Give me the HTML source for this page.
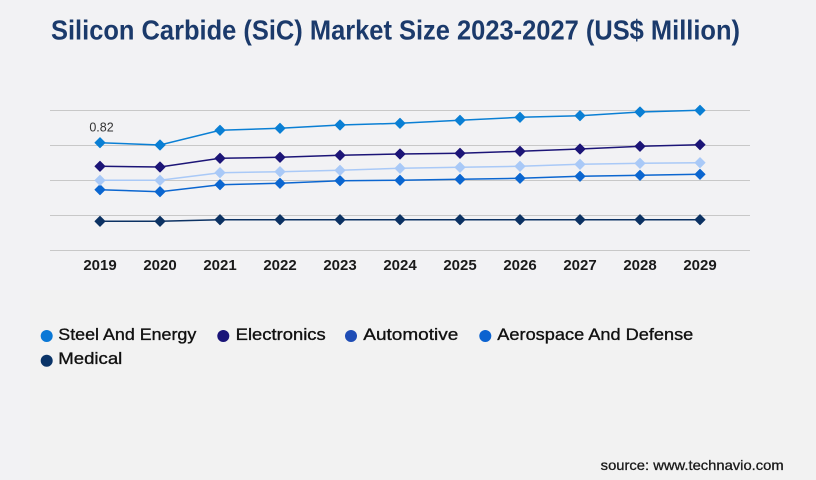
<!DOCTYPE html>
<html>
<head>
<meta charset="utf-8">
<style>
  html,body{margin:0;padding:0;background:#f2f2f4;}
  svg{display:block;}
  text{font-family:"Liberation Sans",Arial,sans-serif;}
</style>
</head>
<body>
<svg width="816" height="480" viewBox="0 0 816 480" xmlns="http://www.w3.org/2000/svg">
  <rect x="0" y="0" width="816" height="480" fill="#f2f2f4"/>
  <rect x="30" y="290" width="786" height="190" fill="#f2f2f2"/>

  <!-- Title -->
  <text x="51" y="39.5" font-size="28" font-weight="bold" fill="#1b3a6b" textLength="689" lengthAdjust="spacingAndGlyphs">Silicon Carbide (SiC) Market Size 2023-2027 (US$ Million)</text>

  <!-- Gridlines -->
  <g stroke="#c8c8c8" stroke-width="1">
    <line x1="50" y1="110.5" x2="750" y2="110.5"/>
    <line x1="50" y1="145.5" x2="750" y2="145.5"/>
    <line x1="50" y1="180.5" x2="750" y2="180.5"/>
    <line x1="50" y1="215.5" x2="750" y2="215.5"/>
    <line x1="50" y1="250.5" x2="750" y2="250.5"/>
  </g>

  <!-- Medical -->
  <polyline fill="none" stroke="#0c3263" stroke-width="1.5" points="100,221.3 160,221.3 220,219.7 280,219.7 340,219.7 400,219.7 460,219.7 520,219.7 580,219.7 640,219.7 700,219.7"/>
  <path fill="#0c3263" stroke="#0c3263" stroke-width="1" stroke-linejoin="round" d="M100 216.3l5 5-5 5-5-5zM160 216.3l5 5-5 5-5-5zM220 214.7l5 5-5 5-5-5zM280 214.7l5 5-5 5-5-5zM340 214.7l5 5-5 5-5-5zM400 214.7l5 5-5 5-5-5zM460 214.7l5 5-5 5-5-5zM520 214.7l5 5-5 5-5-5zM580 214.7l5 5-5 5-5-5zM640 214.7l5 5-5 5-5-5zM700 214.7l5 5-5 5-5-5z"/>

  <!-- Aerospace -->
  <polyline fill="none" stroke="#0b66d0" stroke-width="1.5" points="100,189.7 160,191.7 220,184.7 280,183.3 340,180.7 400,180.3 460,179.3 520,178.3 580,176.3 640,175.3 700,174.3"/>
  <path fill="#0b66d0" stroke="#0b66d0" stroke-width="1" stroke-linejoin="round" d="M100 184.7l5 5-5 5-5-5zM160 186.7l5 5-5 5-5-5zM220 179.7l5 5-5 5-5-5zM280 178.3l5 5-5 5-5-5zM340 175.7l5 5-5 5-5-5zM400 175.3l5 5-5 5-5-5zM460 174.3l5 5-5 5-5-5zM520 173.3l5 5-5 5-5-5zM580 171.3l5 5-5 5-5-5zM640 170.3l5 5-5 5-5-5zM700 169.3l5 5-5 5-5-5z"/>

  <!-- Light blue -->
  <polyline fill="none" stroke="#a9c9f7" stroke-width="1.5" points="100,180.3 160,180.3 220,172.7 280,171.7 340,170.3 400,168.3 460,167.3 520,166.3 580,164.3 640,163.3 700,162.7"/>
  <path fill="#a9c9f7" stroke="#a9c9f7" stroke-width="1" stroke-linejoin="round" d="M100 175.3l5 5-5 5-5-5zM160 175.3l5 5-5 5-5-5zM220 167.7l5 5-5 5-5-5zM280 166.7l5 5-5 5-5-5zM340 165.3l5 5-5 5-5-5zM400 163.3l5 5-5 5-5-5zM460 162.3l5 5-5 5-5-5zM520 161.3l5 5-5 5-5-5zM580 159.3l5 5-5 5-5-5zM640 158.3l5 5-5 5-5-5zM700 157.7l5 5-5 5-5-5z"/>

  <!-- Electronics -->
  <polyline fill="none" stroke="#1c1577" stroke-width="1.5" points="100,166.3 160,167 220,158.3 280,157.3 340,155.3 400,154 460,153.3 520,151.3 580,149 640,146.3 700,144.7"/>
  <path fill="#1c1577" stroke="#1c1577" stroke-width="1" stroke-linejoin="round" d="M100 161.3l5 5-5 5-5-5zM160 162l5 5-5 5-5-5zM220 153.3l5 5-5 5-5-5zM280 152.3l5 5-5 5-5-5zM340 150.3l5 5-5 5-5-5zM400 149l5 5-5 5-5-5zM460 148.3l5 5-5 5-5-5zM520 146.3l5 5-5 5-5-5zM580 144l5 5-5 5-5-5zM640 141.3l5 5-5 5-5-5zM700 139.7l5 5-5 5-5-5z"/>

  <!-- Steel And Energy -->
  <polyline fill="none" stroke="#0a7fd4" stroke-width="1.5" points="100,142.7 160,145 220,130.3 280,128.3 340,125 400,123.3 460,120.3 520,117.3 580,115.7 640,112 700,110.3"/>
  <path fill="#0a7fd4" stroke="#0a7fd4" stroke-width="1" stroke-linejoin="round" d="M100 137.7l5 5-5 5-5-5zM160 140l5 5-5 5-5-5zM220 125.3l5 5-5 5-5-5zM280 123.3l5 5-5 5-5-5zM340 120l5 5-5 5-5-5zM400 118.3l5 5-5 5-5-5zM460 115.3l5 5-5 5-5-5zM520 112.3l5 5-5 5-5-5zM580 110.7l5 5-5 5-5-5zM640 107l5 5-5 5-5-5zM700 105.3l5 5-5 5-5-5z"/>

  <!-- Data label -->
  <text x="101.5" y="131.7" font-size="12.5" fill="#333" text-anchor="middle">0.82</text>

  <!-- X axis labels -->
  <g font-size="15" font-weight="bold" fill="#1a1a1a" text-anchor="middle">
    <text x="100" y="270">2019</text>
    <text x="160" y="270">2020</text>
    <text x="220" y="270">2021</text>
    <text x="280" y="270">2022</text>
    <text x="340" y="270">2023</text>
    <text x="400" y="270">2024</text>
    <text x="460" y="270">2025</text>
    <text x="520" y="270">2026</text>
    <text x="580" y="270">2027</text>
    <text x="640" y="270">2028</text>
    <text x="700" y="270">2029</text>
  </g>

  <!-- Legend -->
  <circle cx="46.7" cy="336" r="6" fill="#0a78d6"/>
  <circle cx="223.3" cy="336" r="6" fill="#1a1478"/>
  <circle cx="351" cy="336" r="6" fill="#1f4db5"/>
  <circle cx="485.3" cy="336" r="6" fill="#0b62d0"/>
  <circle cx="46.7" cy="360.7" r="6" fill="#0a3468"/>
  <g font-size="17" fill="#111" stroke="#111" stroke-width="0.35">
    <text x="58.3" y="340" textLength="138" lengthAdjust="spacingAndGlyphs">Steel And Energy</text>
    <text x="235.7" y="340" textLength="90" lengthAdjust="spacingAndGlyphs">Electronics</text>
    <text x="363.3" y="340" textLength="95" lengthAdjust="spacingAndGlyphs">Automotive</text>
    <text x="497.3" y="340" textLength="196" lengthAdjust="spacingAndGlyphs">Aerospace And Defense</text>
    <text x="58.3" y="364" textLength="64" lengthAdjust="spacingAndGlyphs">Medical</text>
  </g>

  <!-- Source -->
  <text x="600.7" y="470" font-size="14" fill="#1a1a1a" stroke="#1a1a1a" stroke-width="0.3" textLength="183" lengthAdjust="spacingAndGlyphs">source: www.technavio.com</text>
</svg>
</body>
</html>
